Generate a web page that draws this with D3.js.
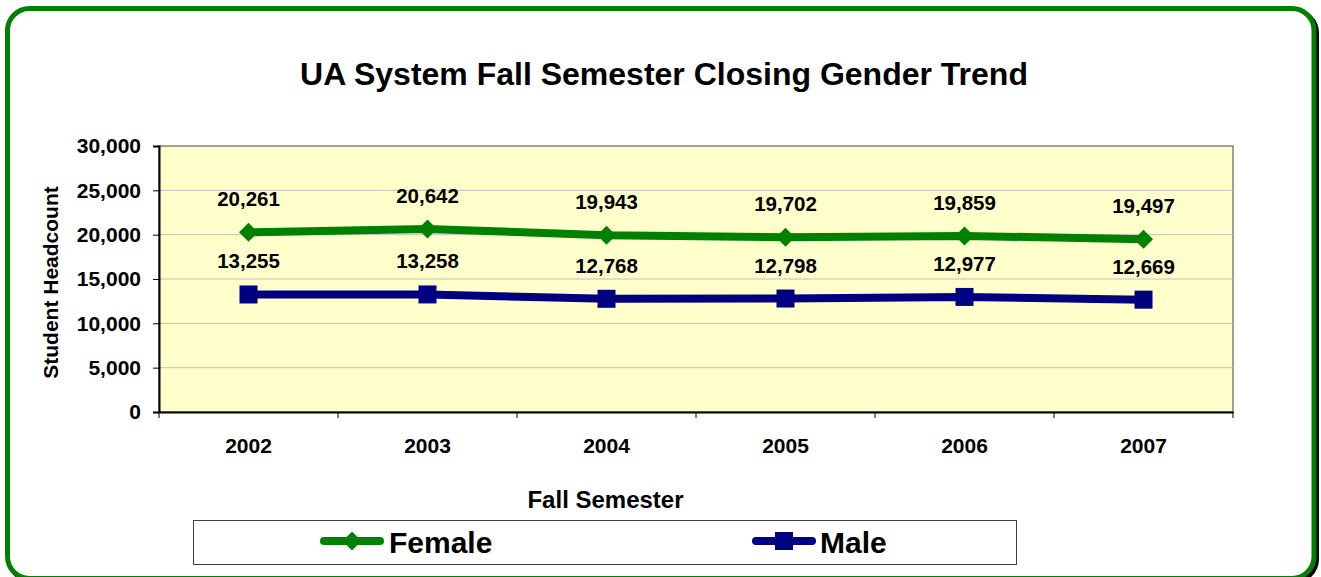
<!DOCTYPE html>
<html>
<head>
<meta charset="utf-8">
<script src="https://cdn.jsdelivr.net/npm/d3@7"></script>
<style>
  body { margin: 0; background: #fff; }
  svg { display: block; font-family: "Liberation Sans", Arial, sans-serif; font-weight: bold; }
</style>
</head>
<body>
<div id="chart"></div>
<script>
// chart values
var years = ["2002", "2003", "2004", "2005", "2006", "2007"];
var female = [20261, 20642, 19943, 19702, 19859, 19497];
var male = [13255, 13258, 12768, 12798, 12977, 12669];
var yTicks = [0, 5000, 10000, 15000, 20000, 25000, 30000];

var svgWidth = 1321;
var svgHeight = 577;

var margin = { top: 146, right: 88, bottom: 165, left: 159 };
var width = svgWidth - margin.left - margin.right;
var height = svgHeight - margin.top - margin.bottom;

var svg = d3.select("#chart")
  .append("svg")
  .attr("width", svgWidth)
  .attr("height", svgHeight);

// outer frame with shadow
svg.append("rect")
  .attr("x", 10).attr("y", 11)
  .attr("width", 1306.5).attr("height", 570)
  .attr("rx", 22).attr("ry", 22)
  .attr("fill", "none")
  .attr("stroke", "#000")
  .attr("stroke-width", 5);

svg.append("rect")
  .attr("x", 7.5).attr("y", 8.5)
  .attr("width", 1306.5).attr("height", 570)
  .attr("rx", 22).attr("ry", 22)
  .attr("fill", "#fff")
  .attr("stroke", "#008000")
  .attr("stroke-width", 5);

// title
svg.append("text")
  .attr("x", 664)
  .attr("y", 85)
  .attr("text-anchor", "middle")
  .attr("font-size", "32px")
  .text("UA System Fall Semester Closing Gender Trend");

var chartGroup = svg.append("g")
  .attr("transform", `translate(${margin.left}, ${margin.top})`);

var xScale = d3.scaleBand()
  .domain(years)
  .range([0, width]);

var yScale = d3.scaleLinear()
  .domain([0, 30000])
  .range([height, 0]);

// plot area
chartGroup.append("rect")
  .attr("width", width)
  .attr("height", height)
  .attr("fill", "#FFFFCC")
  .attr("stroke", "#808080")
  .attr("stroke-width", 1.5);

// gridlines
chartGroup.selectAll(".grid")
  .data(yTicks.slice(1, -1))
  .enter()
  .append("line")
  .attr("x1", 0)
  .attr("x2", width)
  .attr("y1", d => yScale(d))
  .attr("y2", d => yScale(d))
  .attr("stroke", "#C0C0C0")
  .attr("stroke-width", 1);

// axes
var leftAxis = d3.axisLeft(yScale)
  .tickValues(yTicks)
  .tickFormat(d3.format(","))
  .tickSize(6)
  .tickPadding(12);

var yAxisG = chartGroup.append("g").call(leftAxis);
yAxisG.select(".domain").attr("stroke", "#000").attr("stroke-width", 2);
yAxisG.selectAll(".tick line").attr("stroke", "#000").attr("stroke-width", 1);
yAxisG.selectAll("text")
  .attr("font-size", "21px")
  .attr("font-family", "Liberation Sans, Arial, sans-serif")
  .attr("font-weight", "bold")
  .attr("fill", "#000");

var bottomAxis = d3.axisBottom(xScale)
  .tickSize(0)
  .tickPadding(26);

var xAxisG = chartGroup.append("g")
  .attr("transform", `translate(0, ${height})`)
  .call(bottomAxis);
xAxisG.select(".domain").attr("stroke", "#000").attr("stroke-width", 2);
xAxisG.selectAll("text")
  .attr("font-size", "21px")
  .attr("font-family", "Liberation Sans, Arial, sans-serif")
  .attr("font-weight", "bold")
  .attr("fill", "#000");

// category boundary ticks
chartGroup.selectAll(".xtick")
  .data(years.concat(["end"]))
  .enter()
  .append("line")
  .attr("x1", (d, i) => i * xScale.bandwidth())
  .attr("x2", (d, i) => i * xScale.bandwidth())
  .attr("y1", height)
  .attr("y2", height + 6)
  .attr("stroke", "#000")
  .attr("stroke-width", 1);

// axis titles
chartGroup.append("text")
  .attr("transform", "rotate(-90)")
  .attr("x", -136.5)
  .attr("y", 0 - margin.left + 58)
  .attr("text-anchor", "middle")
  .attr("font-size", "21px")
  .text("Student Headcount");

chartGroup.append("text")
  .attr("x", width / 2 - 90.5)
  .attr("y", height + 96)
  .attr("text-anchor", "middle")
  .attr("font-size", "24px")
  .text("Fall Semester");

var cx = d => xScale(d) + xScale.bandwidth() / 2;

var series = [
  { name: "Female", values: female, color: "#008000", marker: "diamond" },
  { name: "Male", values: male, color: "#000080", marker: "square" }
];

var line = d3.line()
  .x(d => cx(d.year))
  .y(d => yScale(d.value));

function drawMarker(g, type, color) {
  if (type === "diamond") {
    g.append("path")
      .attr("d", "M0,-9.5L9.5,0L0,9.5L-9.5,0Z")
      .attr("fill", color);
  } else {
    g.append("rect")
      .attr("x", -9).attr("y", -9)
      .attr("width", 18).attr("height", 18)
      .attr("fill", color);
  }
}

series.forEach(function(s) {
  var pts = years.map((y, i) => ({ year: y, value: s.values[i] }));

  chartGroup.append("path")
    .datum(pts)
    .attr("d", line)
    .attr("fill", "none")
    .attr("stroke", s.color)
    .attr("stroke-width", 8)
    .attr("stroke-linejoin", "round");

  pts.forEach(function(p) {
    var g = chartGroup.append("g")
      .attr("transform", `translate(${cx(p.year)}, ${yScale(p.value)})`);
    drawMarker(g, s.marker, s.color);
  });

  chartGroup.selectAll(".lbl-" + s.name)
    .data(pts)
    .enter()
    .append("text")
    .attr("x", d => cx(d.year))
    .attr("y", d => yScale(d.value) - 26)
    .attr("text-anchor", "middle")
    .attr("font-size", "20.5px")
    .attr("fill", "#000")
    .text(d => d3.format(",")(d.value));
});

// legend
svg.append("rect")
  .attr("x", 193.5).attr("y", 520.5)
  .attr("width", 823).attr("height", 44)
  .attr("fill", "#fff")
  .attr("stroke", "#404040")
  .attr("stroke-width", 1);

var legendPos = [{ x: 352, tx: 389 }, { x: 784, tx: 820 }];
series.forEach(function(s, i) {
  var lg = svg.append("g")
    .attr("transform", `translate(${legendPos[i].x}, 541)`);
  lg.append("line")
    .attr("x1", -28).attr("x2", 28)
    .attr("stroke", s.color)
    .attr("stroke-width", 8)
    .attr("stroke-linecap", "round");
  drawMarker(lg, s.marker, s.color);
  svg.append("text")
    .attr("x", legendPos[i].tx)
    .attr("y", 553)
    .attr("font-size", "30px")
    .text(s.name);
});
</script>
</body>
</html>
